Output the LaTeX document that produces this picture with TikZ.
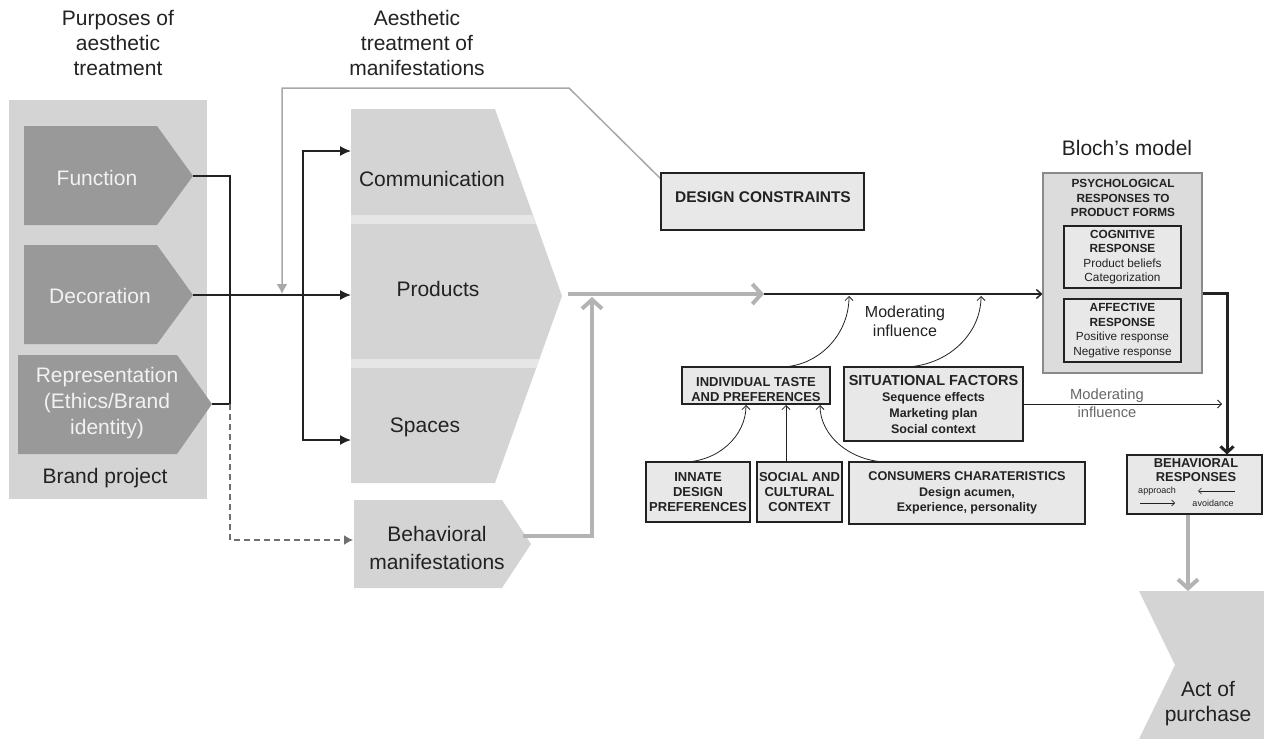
\documentclass[tikz,border=0pt]{standalone}
\usepackage{fontspec}
\setmainfont{Liberation Sans}
\usetikzlibrary{arrows.meta}
\definecolor{panel}{HTML}{D4D4D4}
\definecolor{pent}{HTML}{999999}
\definecolor{sepc}{HTML}{E6E6E6}
\definecolor{boxfill}{HTML}{E8E8E8}
\definecolor{outerfill}{HTML}{DCDCDC}
\definecolor{outerdraw}{HTML}{8A8A8A}
\definecolor{ink}{HTML}{222222}
\definecolor{wtext}{HTML}{F2F2F2}
\definecolor{garrow}{HTML}{B3B3B3}
\definecolor{gline}{HTML}{A8A8A8}
\definecolor{dashc}{HTML}{707070}
\definecolor{modc}{HTML}{666666}
\begin{document}
\begin{tikzpicture}[x=1pt,y=-1pt,
  txt/.style={inner sep=0pt,align=center,text=ink},
  big/.style={txt,font=\fontsize{21}{25}\selectfont},
  wht/.style={big,text=wtext},
  boxst/.style={draw=ink,fill=boxfill,line width=1.1pt,inner sep=0pt,align=center,text=ink},
  blk/.style={draw=ink,line width=1.5pt},
  gthick/.style={draw=garrow,line width=4pt},
  gthin/.style={draw=gline,line width=1.5pt},
  dsh/.style={draw=dashc,line width=1.5pt,dash pattern=on 6pt off 4pt},
  thinarr/.style={draw=ink,line width=0.8pt,-{Straight Barb[length=4pt,width=8pt]}},
  gbarb/.style={-{Straight Barb[length=9pt,width=20pt]}},
  lat/.style={-{Latex[length=11pt,width=10pt]}},
]
\useasboundingbox (0,0) rectangle (1264,739);

% ---------- left panel ----------
\fill[panel] (9,100) rectangle (207,499);
\fill[pent] (24,126) -- (157,126) -- (193,176) -- (157,225) -- (24,225) -- cycle;
\fill[pent] (24,245) -- (157,245) -- (193,295) -- (157,344) -- (24,344) -- cycle;
\fill[pent] (18,355) -- (177,355) -- (212,404) -- (177,454) -- (18,454) -- cycle;
\node[wht] (fun) at (97,178) {Function};
\node[wht] (dec) at (100,296) {Decoration};
\node[wht,font=\fontsize{21}{26}\selectfont] (rep) at (107,403) {Representation\\(Ethics/Brand\\identity)};
\node[big] (bp) at (105,478) {Brand project};
\node[big] (t1) at (118,43) {Purposes of\\aesthetic\\treatment};
\node[big] (t2) at (417,43) {Aesthetic\\treatment of\\manifestations};

% ---------- middle pentagon ----------
\fill[panel] (351,109) -- (495,109) -- (562,296) -- (495,483) -- (351,483) -- cycle;
\begin{scope}
\clip (351,109) -- (495,109) -- (562,296) -- (495,483) -- (351,483) -- cycle;
\fill[sepc] (340,215) rectangle (600,224);
\fill[sepc] (340,359) rectangle (600,368);
\end{scope}
\node[big] (comm) at (432,179) {Communication};
\node[big] (prod) at (438,289) {Products};
\node[big] (spac) at (425,427) {Spaces};

\fill[panel] (354,500) -- (502,500) -- (531,544) -- (502,588) -- (354,588) -- cycle;
\node[big,font=\fontsize{21}{28}\selectfont] (bman) at (437,548) {Behavioral\\manifestations};

% ---------- coordinates ----------
\coordinate (fTip) at (193,176);
\coordinate (dTip) at (193,295);
\coordinate (rTip) at (212,404);
\coordinate (j1) at (230,176);
\coordinate (j2) at (230,404);
\coordinate (j3) at (230,540);
\coordinate (bmIn) at (353,540);
\coordinate (prodIn) at (351,295);
\coordinate (commIn) at (351,151);
\coordinate (spIn) at (351,440);
\coordinate (v1) at (303,151);
\coordinate (v2) at (303,440);
\coordinate (dcEnd) at (672,190);
\coordinate (dc1) at (569,88);
\coordinate (dc2) at (282,88);
\coordinate (dcArr) at (282,294);
\coordinate (pTip) at (568,294);
\coordinate (gHead) at (764,294);
\coordinate (bmOut) at (523,536);
\coordinate (g1) at (592,536);
\coordinate (g2) at (592,297);
\coordinate (bk) at (1227,293);

% ---------- left connectors ----------
\draw[blk] (fTip) -- (j1) -- (j2) -- (rTip);
\draw[blk,lat] (dTip) -- (prodIn);
\draw[blk,{Latex[length=11pt,width=10pt]}-{Latex[length=11pt,width=10pt]}] (commIn) -- (v1) -- (v2) -- (spIn);
\draw[dsh,-{Latex[length=9pt,width=10pt]}] (j2) -- (j3) -- (bmIn);
\draw[gthin,-{Latex[length=10pt,width=11pt]}] (dcEnd) -- (dc1) -- (dc2) -- (dcArr);

% ---------- boxes ----------
\node[boxst,minimum width=203pt,minimum height=57pt] (dc) at (762.5,201.5) {};
\node[txt,font=\fontsize{15.5}{18}\selectfont\bfseries] (dct) at (763,197) {DESIGN CONSTRAINTS};

\node[boxst,minimum width=148pt,minimum height=37pt] (ind) at (756,385.5) {};
\node[txt,font=\fontsize{13}{15}\selectfont\bfseries] (indt) at (756,390) {INDIVIDUAL TASTE\\AND PREFERENCES};

\node[boxst,minimum width=179pt,minimum height=74pt,font=\fontsize{12.5}{16}\selectfont\bfseries] (sit) at (933.5,404)
  {{\fontsize{14.5}{16}\selectfont SITUATIONAL FACTORS}\\Sequence effects\\Marketing plan\\Social context};

\node[boxst,minimum width=104pt,minimum height=60pt,font=\fontsize{13}{15}\selectfont\bfseries] (inn) at (698,492)
  {INNATE\\DESIGN\\PREFERENCES};
\node[boxst,minimum width=85pt,minimum height=60pt,font=\fontsize{13}{15}\selectfont\bfseries] (soc) at (799.5,492)
  {SOCIAL AND\\CULTURAL\\CONTEXT};
\node[boxst,minimum width=236pt,minimum height=62pt,font=\fontsize{12.5}{15.5}\selectfont\bfseries] (con) at (967,493)
  {{\fontsize{12.7}{15}\selectfont CONSUMERS CHARATERISTICS}\\Design acumen,\\Experience, personality};

% Bloch
\node[big] (bm) at (1127,148) {Bloch’s model};
\node[draw=outerdraw,fill=outerfill,line width=1.1pt,minimum width=159pt,minimum height=200pt,inner sep=0pt] (bloch) at (1122.5,273) {};
\node[txt,font=\fontsize{11.8}{14.5}\selectfont\bfseries] (psy) at (1123,198) {PSYCHOLOGICAL\\RESPONSES TO\\PRODUCT FORMS};
\node[boxst,minimum width=117pt,minimum height=62pt,font=\fontsize{11.8}{14.5}\selectfont] (cog) at (1122.5,257)
  {\textbf{COGNITIVE}\\\textbf{RESPONSE}\\Product beliefs\\Categorization};
\node[boxst,minimum width=117pt,minimum height=63pt,font=\fontsize{11.8}{14.5}\selectfont] (aff) at (1122.5,330.5)
  {\textbf{AFFECTIVE}\\\textbf{RESPONSE}\\Positive response\\Negative response};

% Behavioral responses
\node[boxst,minimum width=135pt,minimum height=59pt] (beh) at (1194.5,484.5) {};
\node[txt,font=\fontsize{12.9}{14.5}\selectfont\bfseries] (beht) at (1196,470) {BEHAVIORAL\\RESPONSES};
\node[txt,font=\fontsize{9}{10}\selectfont] (appr) at (1157,491.5) {approach};
\node[txt,font=\fontsize{9}{10}\selectfont] (avoi) at (1213,503.5) {avoidance};
\coordinate (ap1) at (1140,503);
\coordinate (ap2) at (1175,503);
\coordinate (av1) at (1235,491);
\coordinate (av2) at (1198,491);
\draw[draw=ink,line width=0.6pt,-{Straight Barb[length=3pt,width=6pt]}] (ap1) -- (ap2);
\draw[draw=ink,line width=0.6pt,-{Straight Barb[length=3pt,width=6pt]}] (av1) -- (av2);

% Act of purchase
\fill[panel] (1139,591) -- (1264,591) -- (1264,739) -- (1139,739) -- (1175,665) -- cycle;
\node[big] (act) at (1208,704) {Act of\\purchase};

% ---------- main flow ----------
\draw[gthick,gbarb] (pTip) -- (gHead);
\draw[gthick,gbarb] (bmOut) -- (g1) -- (g2);
\draw[blk,-{Straight Barb[length=5pt,width=9pt]}] (gHead) -- (gHead -| bloch.west);
\draw[draw=ink,line width=3pt,-{Straight Barb[length=6pt,width=13pt]}] (bloch.east |- bk) -- (bk) -- (bk |- beh.north);
\coordinate (gd1) at (1188,515);
\coordinate (gd2) at (1188,591);
\draw[gthick,gbarb] (gd1) -- (gd2);

% moderating influences
\coordinate (a1s) at (780,367);
\coordinate (a1e) at (849,296);
\coordinate (a2s) at (903,367);
\coordinate (a2e) at (981,296);
\draw[thinarr] (a1s) .. controls (818,367) and (849,335) .. (a1e);
\draw[thinarr] (a2s) .. controls (946,367) and (981,335) .. (a2e);
\node[txt,font=\fontsize{16}{19}\selectfont] (mod1) at (905,321) {Moderating\\influence};

\coordinate (modEnd) at (1222,404);
\node[txt,text=modc,font=\fontsize{14.7}{18}\selectfont] (mod2) at (1107,403) {Moderating\\influence};
\draw[draw=ink,line width=0.8pt,-{Straight Barb[length=4pt,width=8pt]}] (sit.east) -- (modEnd);

% into individual taste
\coordinate (b1s) at (683,462);
\coordinate (b1e) at (746,405);
\coordinate (b2s) at (786,462);
\coordinate (b2e) at (786,405);
\coordinate (b3s) at (888,462);
\coordinate (b3e) at (820,405);
\draw[thinarr] (b1s) .. controls (718,462) and (746,436) .. (b1e);
\draw[thinarr] (b2s) -- (b2e);
\draw[thinarr] (b3s) .. controls (851,462) and (820,436) .. (b3e);
\end{tikzpicture}
\end{document}
